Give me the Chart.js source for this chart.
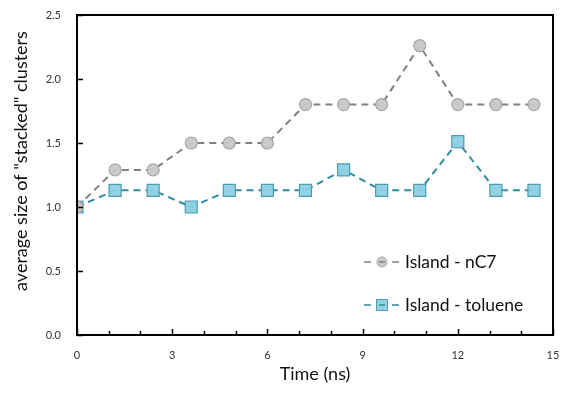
<!DOCTYPE html>
<html><head><meta charset="utf-8">
<script src="https://cdn.jsdelivr.net/npm/chart.js@4"></script>
<style>html,body{margin:0;padding:0;background:#fff}#c{display:block}</style>
</head><body>
<canvas id="c" width="582" height="396"></canvas>
<script>
const timeNs = [0, 1.2, 2.4, 3.6, 4.8, 6.0, 7.2, 8.4, 9.6, 10.8, 12.0, 13.2, 14.4];
const nC7 = [1.0, 1.29, 1.29, 1.5, 1.5, 1.5, 1.8, 1.8, 1.8, 2.26, 1.8, 1.8, 1.8];
const toluene = [1.0, 1.13, 1.13, 1.0, 1.13, 1.13, 1.13, 1.29, 1.13, 1.13, 1.51, 1.13, 1.13];
const seriesNames = ["Island - nC7", "Island - toluene"];
const xTicks = [0, 3, 6, 9, 12, 15];
const yTicks = [0.0, 0.5, 1.0, 1.5, 2.0, 2.5];
const xTitle = "Time (ns)";
const yTitle = 'average size of "stacked" clusters';

const FONT = "Lato, 'Open Sans', sans-serif";

const boxPlugin = {
  id: 'box',
  afterDatasetsDraw(chart) {
    const {ctx, chartArea: a, scales} = chart;
    ctx.save();
    ctx.strokeStyle = '#000';
    ctx.lineWidth = 2;
    ctx.strokeRect(a.left, a.top, a.right - a.left, a.bottom - a.top);
    ctx.lineWidth = 1.5;
    for (let v = 0; v <= 15; v++) {
      const px = Math.round(scales.x.getPixelForValue(v)) + 0.5;
      const len = (v % 3 === 0) ? 6 : 4;
      ctx.beginPath(); ctx.moveTo(px, a.bottom); ctx.lineTo(px, a.bottom - len); ctx.stroke();
    }
    for (const v of yTicks) {
      const py = Math.round(scales.y.getPixelForValue(v)) + 0.5;
      ctx.beginPath(); ctx.moveTo(a.left, py); ctx.lineTo(a.left + 6, py); ctx.stroke();
    }
    ctx.restore();
  },
  afterDraw(chart) {
    const {ctx, chartArea: a} = chart;
    ctx.save();
    ctx.fillStyle = '#111';
    ctx.font = "18px " + FONT;
    ctx.textAlign = 'center';
    ctx.textBaseline = 'middle';
    ctx.fillText(xTitle, (a.left + a.right) / 2, 374);
    ctx.save();
    ctx.translate(21, 161);
    ctx.rotate(-Math.PI / 2);
    ctx.fillText(yTitle, 0, 0);
    ctx.restore();
    const items = [
      {y: 262, ds: chart.data.datasets[0]},
      {y: 305, ds: chart.data.datasets[1]}
    ];
    for (const it of items) {
      const x0 = 364, xm = 382, x1 = 399;
      ctx.strokeStyle = it.ds.borderColor;
      ctx.lineWidth = 1.5;
      ctx.beginPath(); ctx.moveTo(x0, it.y); ctx.lineTo(x0 + 7, it.y); ctx.stroke();
      ctx.beginPath(); ctx.moveTo(x1 - 7, it.y); ctx.lineTo(x1, it.y); ctx.stroke();
      ctx.fillStyle = it.ds.pointBackgroundColor;
      ctx.strokeStyle = it.ds.pointBorderColor;
      ctx.lineWidth = 1;
      ctx.beginPath();
      if (it.ds.pointStyle === 'circle') {
        ctx.arc(xm, it.y, 5, 0, Math.PI * 2);
      } else {
        ctx.rect(xm - 5.5, it.y - 5.5, 11, 11);
      }
      ctx.fill(); ctx.stroke();
      ctx.strokeStyle = it.ds.borderColor;
      ctx.lineWidth = 1.5;
      ctx.beginPath(); ctx.moveTo(xm - 3, it.y); ctx.lineTo(xm + 3, it.y); ctx.stroke();
      ctx.fillStyle = '#111';
      ctx.font = "17.5px " + FONT;
      ctx.textAlign = 'left';
      ctx.fillText(it.ds.label, 405, it.y);
    }
    ctx.restore();
  }
};

new Chart(document.getElementById('c'), {
  type: 'line',
  data: {
    datasets: [
      {
        label: seriesNames[0],
        data: timeNs.map((t, i) => ({x: t, y: nC7[i]})),
        borderColor: '#808080',
        borderWidth: 2,
        borderDash: [7, 5],
        pointStyle: 'circle',
        pointRadius: 6,
        pointBackgroundColor: 'rgba(200,200,200,0.95)',
        pointBorderColor: '#a6a6a6',
        pointBorderWidth: 1.2,
        tension: 0,
        fill: false
      },
      {
        label: seriesNames[1],
        data: timeNs.map((t, i) => ({x: t, y: toluene[i]})),
        borderColor: '#2e8a9e',
        borderWidth: 2,
        borderDash: [7, 5],
        pointStyle: 'rect',
        pointRadius: 8.5,
        pointBackgroundColor: 'rgba(140,208,226,0.95)',
        pointBorderColor: '#4a9db2',
        pointBorderWidth: 1.2,
        tension: 0,
        fill: false
      }
    ]
  },
  options: {
    responsive: false,
    animation: false,
    layout: {padding: {top: 15, right: 29, left: 0, bottom: 0}},
    plugins: {legend: {display: false}, tooltip: {enabled: false}},
    scales: {
      x: {
        type: 'linear', min: 0, max: 15,
        afterBuildTicks(s) { s.ticks = xTicks.map(v => ({value: v})); },
        afterFit(s) { s.height = 61; },
        grid: {display: false, drawTicks: false},
        border: {display: false},
        ticks: {color: '#333', font: {family: FONT, size: 11}, padding: 14, maxRotation: 0, callback: v => String(v)},
        title: {display: false}
      },
      y: {
        min: 0, max: 2.5,
        afterBuildTicks(s) { s.ticks = yTicks.map(v => ({value: v})); },
        afterFit(s) { s.width = 77; s.paddingTop = 0; s.paddingBottom = 0; },
        grid: {display: false, drawTicks: false},
        border: {display: false},
        ticks: {color: '#333', font: {family: FONT, size: 11}, padding: 16, callback: v => Number(v).toFixed(1)},
        title: {display: false}
      }
    }
  },
  plugins: [boxPlugin]
});
</script>
</body></html>
